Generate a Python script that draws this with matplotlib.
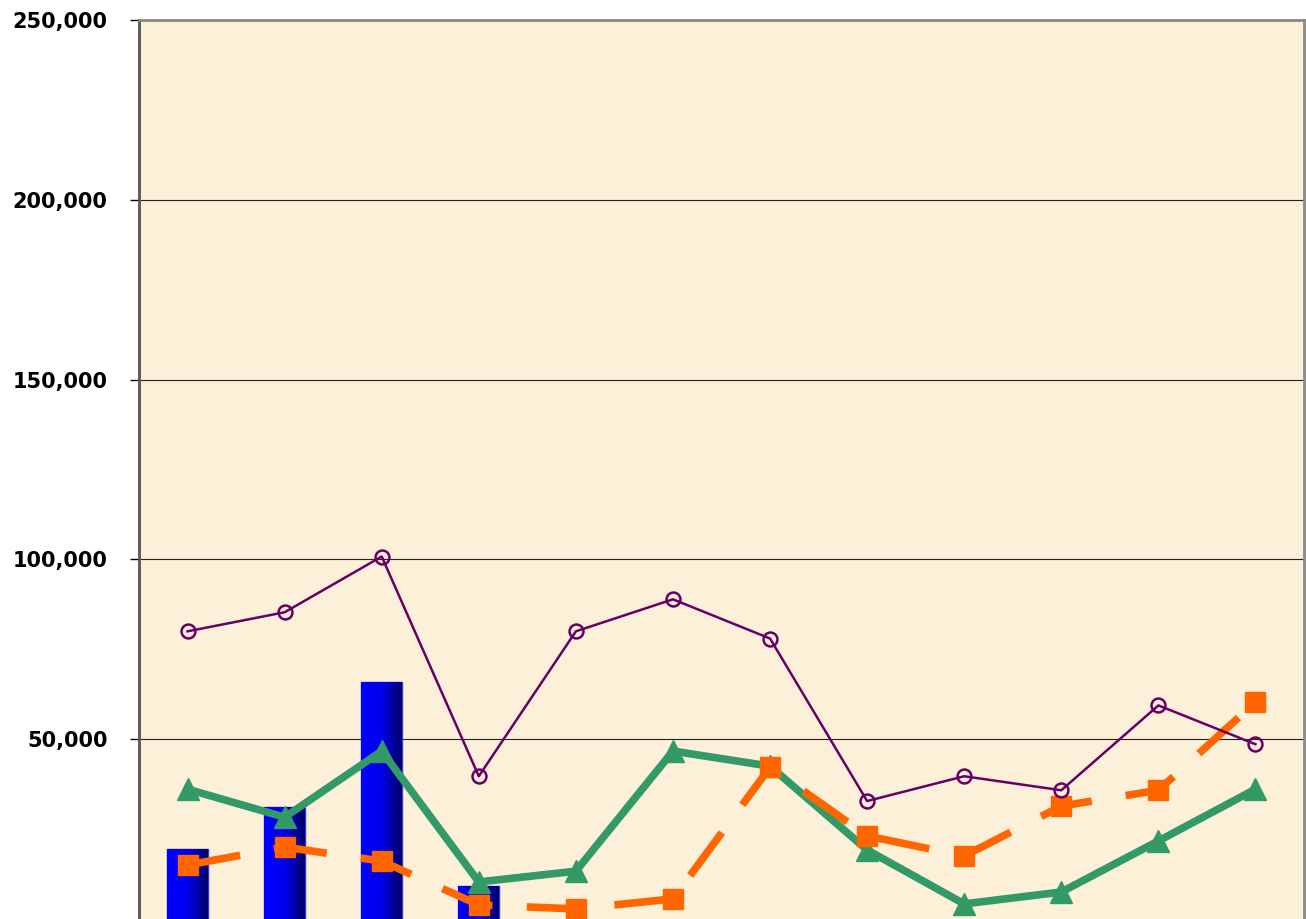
import numpy as np
import matplotlib
matplotlib.use('Agg')
import matplotlib.pyplot as plt
from matplotlib.ticker import FuncFormatter

plt.rcParams['font.family'] = ['Liberation Sans', 'DejaVu Sans']

categories = list(range(1, 13))
bar_values = [19400, 31100, 65800, 9200, 0, 0, 0, 0, 0, 0, 0, 0]
purple_values = [80000, 85300, 100800, 39700, 80000, 88900, 78000, 32800, 39700, 35800, 59400, 48600]
green_values = [36100, 28300, 46700, 10300, 13300, 46700, 42500, 19200, 4200, 7500, 21700, 36100]
orange_values = [15000, 20000, 16100, 3900, 2800, 5600, 42200, 23100, 17500, 31400, 35800, 60300]
y_ticks = [50000, 100000, 150000, 200000, 250000]

fig = plt.figure(figsize=(13.06, 9.19), dpi=100)
ax = fig.add_axes([139 / 1306, 0.0, 1165 / 1306, 1 - 20 / 919])
ax.set_facecolor('#fcf0d9')

x = np.arange(len(categories))

# gradient bars, only where there is a value
bx = [i for i, v in zip(x, bar_values) if v > 0]
bv = [v for v in bar_values if v > 0]
bars = ax.bar(bx, bv, width=0.42, color='#0000ff', edgecolor='#3333ff',
              linewidth=1, zorder=2)
grad = np.linspace(0, 1, 64).reshape(1, -1)
cmap = matplotlib.colors.LinearSegmentedColormap.from_list('b', ['#0000ff', '#0000ee', '#000066'])
for b in bars:
    x0, w, h = b.get_x(), b.get_width(), b.get_height()
    im = ax.imshow(grad, cmap=cmap, aspect='auto', extent=[x0, x0 + w, 0, h], zorder=2.5)
    im.set_clip_path(b)

ax.plot(x, green_values, color='#339966', lw=5.5, marker='^', ms=16, zorder=3)
ax.plot(x, orange_values, color='#ff6600', lw=5.5, marker='s', ms=14,
        dashes=(7, 4.5), zorder=4)
ax.plot(x, purple_values, color='#660066', lw=1.8, marker='o', ms=10,
        markerfacecolor='none', markeredgewidth=1.8, zorder=5)

ax.set_xlim(-0.5, len(categories) - 0.5)
ax.set_ylim(0, 250000)
ax.set_yticks(y_ticks)
ax.yaxis.set_major_formatter(FuncFormatter(lambda v, p: f'{int(v):,}'))
ax.tick_params(axis='y', length=6.5, width=1, pad=16, colors='black')
for lab in ax.get_yticklabels():
    lab.set_fontweight('bold')
    lab.set_fontfamily('DejaVu Sans')
    lab.set_fontsize(15)
ax.set_xticks([])
ax.grid(axis='y', color='#222222', lw=0.8, zorder=1)
ax.set_axisbelow(True)

ax.spines['left'].set_color('#555555')
ax.spines['left'].set_linewidth(2)
ax.spines['top'].set_color('#888888')
ax.spines['top'].set_linewidth(2)
ax.spines['right'].set_color('#888888')
ax.spines['right'].set_linewidth(2)
ax.spines['bottom'].set_visible(False)

fig.savefig('out.png', dpi=100)
